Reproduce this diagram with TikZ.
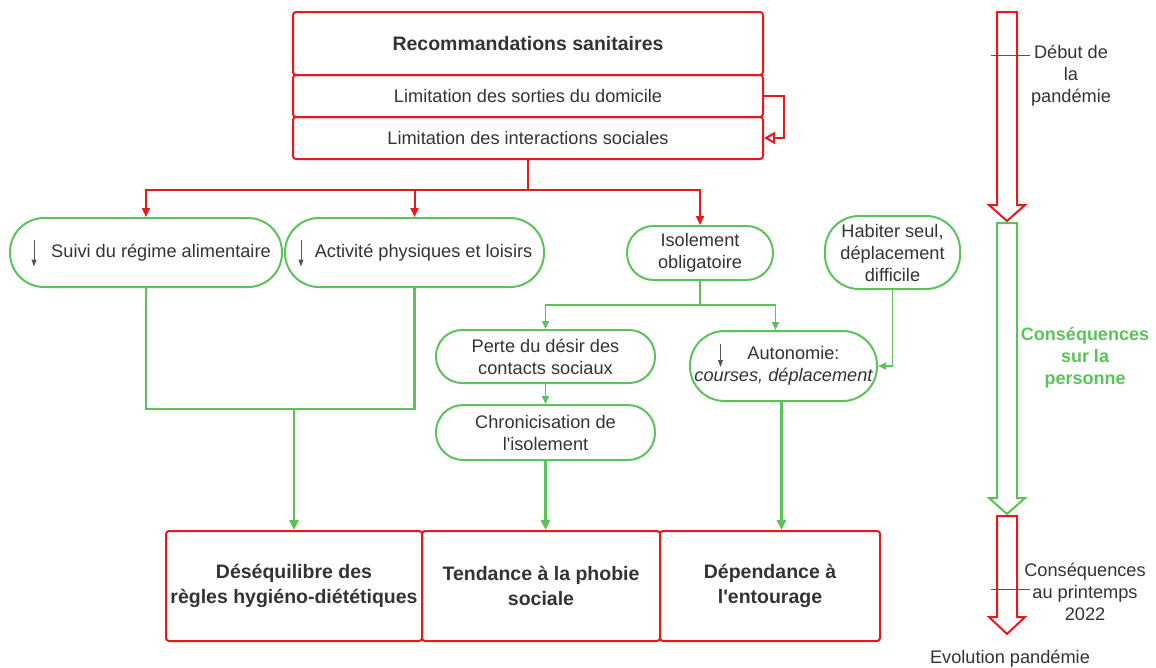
\documentclass[tikz,border=0pt]{standalone}
\usepackage{fontspec}
\setmainfont{Liberation Sans}
\usetikzlibrary{arrows.meta}
\definecolor{myred}{HTML}{E5191E}
\definecolor{mygreen}{HTML}{5CC35C}
\definecolor{txt}{HTML}{333333}
\definecolor{tickgray}{HTML}{555555}
\begin{document}
\begin{tikzpicture}[x=1pt,y=-1pt,
  every node/.style={text=txt, font=\fontsize{18.2}{22}\selectfont, inner sep=0pt, align=center},
  redbox/.style={draw=myred, line width=2pt, rounded corners=3pt},
  pill/.style={draw=mygreen, line width=2pt},
  bigtxt/.style={font=\fontsize{19.5}{25}\selectfont\bfseries},
  redarrow/.style={draw=myred, line width=2pt, -{Triangle[length=9pt,width=8pt]}},
  greenthick/.style={draw=mygreen, line width=2.5pt, -{Triangle[length=10pt,width=9pt]}},
  greenthin/.style={draw=mygreen, line width=1.6pt, -{Triangle[length=8pt,width=7pt]}},
  grayarrow/.style={draw=tickgray, line width=1pt, -{Triangle[length=7pt,width=5pt]}},
  blockred/.style={draw=myred, line width=2pt, fill=white, line join=miter},
  blockgreen/.style={draw=mygreen, line width=2pt, fill=white, line join=miter}
]
\useasboundingbox (0,0) rectangle (1156,667);

% top box
\node[redbox, minimum width=470pt, minimum height=63pt, font=\fontsize{19.5}{24}\selectfont\bfseries] (title) at (528,43.5) {Recommandations sanitaires};
\node[redbox, minimum width=470pt, minimum height=42pt] (row1) at (528,96) {Limitation des sorties du domicile};
\node[redbox, minimum width=470pt, minimum height=42pt] (row2) at (528,138) {Limitation des interactions sociales};

% pills
\node[pill, rounded corners=34pt, minimum width=272pt, minimum height=69pt] (suivi) at (146,252.5) {\hspace*{30pt}Suivi du régime alimentaire};
\node[pill, rounded corners=34pt, minimum width=259pt, minimum height=69pt] (activ) at (414.5,252.5) {\hspace*{18pt}Activité physiques et loisirs};
\node[pill, rounded corners=26.5pt, minimum width=146pt, minimum height=54pt] (isol) at (700,253) {Isolement\\obligatoire};
\node[pill, rounded corners=34pt, minimum width=135pt, minimum height=73pt] (habiter) at (892.5,252.5) {Habiter seul,\\déplacement\\difficile};
\node[pill, rounded corners=26pt, minimum width=219pt, minimum height=53pt] (perte) at (545.5,356.5) {Perte du désir des\\contacts sociaux};
\node[pill, rounded corners=27pt, minimum width=219pt, minimum height=55pt] (chroni) at (545.5,432.5) {Chronicisation de\\l\textquotesingle isolement};
\node[pill, rounded corners=34.5pt, minimum width=187pt, minimum height=70pt] (auto) at (783.5,366) {\hspace*{20pt}Autonomie:\\\itshape courses, déplacement};

% bottom boxes
\node[redbox, bigtxt, minimum width=256pt, minimum height=110pt] (box1) at (294,586) {Déséquilibre des\\règles hygiéno-diététiques};
\node[redbox, bigtxt, minimum width=238pt, minimum height=110pt] (box2) at (541,586) {Tendance à la phobie\\sociale};
\node[redbox, bigtxt, minimum width=220pt, minimum height=110pt] (box3) at (770,586) {Dépendance à\\l\textquotesingle entourage};

% small gray down arrows
\draw[grayarrow] ([xshift=25pt,yshift=13pt]suivi.west) -- ++(0,27);
\draw[grayarrow] ([xshift=17pt,yshift=13pt]activ.west) -- ++(0,27);
\draw[grayarrow] ([xshift=-63pt,yshift=22pt]auto.center) -- ++(0,23);

% loop arrow
\draw[draw=myred, line width=2pt, -{Triangle[open,length=11pt,width=12pt]}] (row1.east) -- ++(20,0) |- (row2.east);

% red connectors
\coordinate (j1) at (528,190);
\draw[draw=myred, line width=2pt] (row2.south) -- (j1);
\draw[redarrow] (j1) -| (suivi.north);
\draw[redarrow] (j1) -| (activ.north);
\draw[redarrow] (j1) -| (isol.north);

% green connectors
\coordinate (j2) at (294,409);
\draw[draw=mygreen, line width=2.5pt] (suivi.south) |- (j2) -| (activ.south);
\draw[greenthick] (j2) -- (box1.north);

\coordinate (j3) at (700,305);
\draw[draw=mygreen, line width=1.6pt] (isol.south) -- (j3);
\draw[greenthin] (j3) -| (perte.north);
\draw[greenthin] (j3) -| ([xshift=-8pt]auto.north);
\draw[greenthin] (perte.south) -- (chroni.north);
\draw[greenthin] (habiter.south) |- (auto.east);
\draw[greenthick] (chroni.south) -- (chroni.south |- box2.north);
\draw[greenthick] ([xshift=-2pt]auto.south) -- ([xshift=-2pt]auto.south |- box3.north);

% timeline block arrows
\draw[blockred] (997,12) -- (1017,12) -- (1017,205) -- (1025,205) -- (1007,221) -- (989,205) -- (997,205) -- cycle;
\draw[blockgreen] (997,223) -- (1017,223) -- (1017,498) -- (1025,498) -- (1007,514) -- (989,498) -- (997,498) -- cycle;
\draw[blockred] (997,516) -- (1017,516) -- (1017,617) -- (1025,617) -- (1007,634) -- (989,617) -- (997,617) -- cycle;

% ticks
\draw[tickgray, line width=1pt] (991,55) -- (1030,55);
\draw[tickgray, line width=1pt] (991,589) -- (1030,589);

% timeline labels
\node (deb) at (1071,76) {Début de\\la\\pandémie};
\node[text=mygreen, font=\fontsize{18}{22}\selectfont\bfseries] (cons) at (1085,358) {Conséquences\\sur la\\personne};
\node (print) at (1085,592) {Conséquences\\au printemps\\2022};
\node (evol) at (1010,659) {Evolution pandémie};
\end{tikzpicture}
\end{document}
